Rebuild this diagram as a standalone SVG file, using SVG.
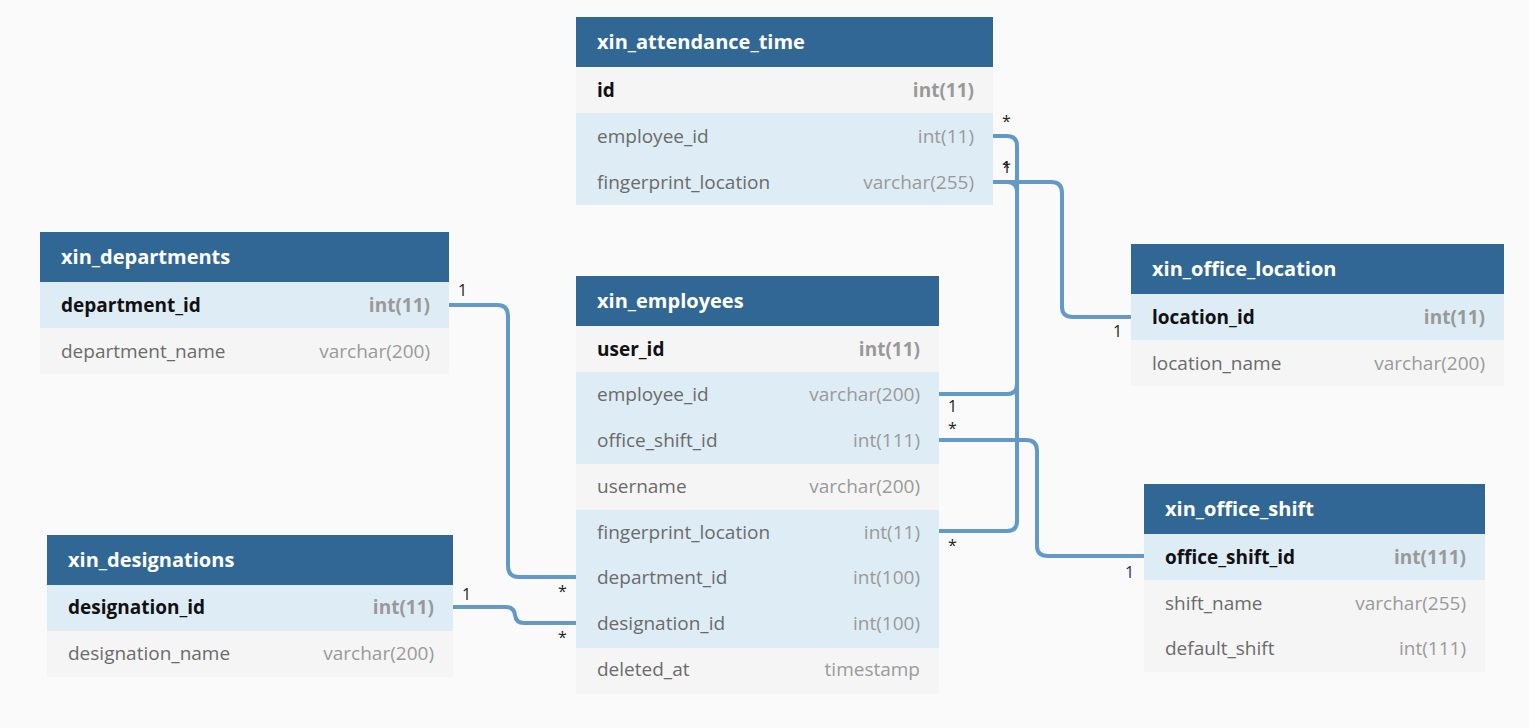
<svg xmlns="http://www.w3.org/2000/svg" width="1529" height="728" viewBox="0 0 1529 728">
<style>
.bg{fill:#fafafa}
.hd{fill:#316794}
.ht{fill:#ffffff;font-family:"Open Sans",sans-serif;font-size:20px;font-weight:bold}
.rg{fill:#f5f5f5}
.rb{fill:#deecf5}
.fn{fill:#6b6b6b;font-family:"Open Sans",sans-serif;font-size:19px}
.ft{fill:#9a9a9a;font-family:"Open Sans",sans-serif;font-size:19px;text-anchor:end}
.pk{fill:#111111;font-weight:bold}
.pt{fill:#999999;font-weight:bold}
.cn{fill:none;stroke:#6399c9;stroke-width:4}
.lb{fill:#222222;font-family:"Open Sans",sans-serif;font-size:16px}
</style>
<rect class="bg" width="1529" height="728"/>
<g id="connectors">
<path class="cn" d="M993,136 H1007 Q1017,136 1017,146 V384 Q1017,394 1007,394 H939"/>
<path class="cn" d="M993,182 H1007 Q1017,182 1017,192 V521 Q1017,531 1007,531 H939"/>
<path class="cn" d="M993,182 H1051 Q1062,182 1062,193 V307 Q1062,317 1073,317 H1131"/>
<path class="cn" d="M939,440 H1026 Q1037,440 1037,451 V546 Q1037,556 1048,556 H1144"/>
<path class="cn" d="M449,305 H497 Q508,305 508,316 V566 Q508,577 519,577 H576"/>
<path class="cn" d="M453,607 H506 Q514,607 515,615 Q516,623 524,623 H576"/>
<text class="lb" x="1002" y="127">*</text>
<text class="lb" x="1002" y="173">1</text>
<text class="lb" x="1002" y="173">*</text>
<text class="lb" x="948" y="412">1</text>
<text class="lb" x="948" y="434">*</text>
<text class="lb" x="948" y="551">*</text>
<text class="lb" x="1113" y="337">1</text>
<text class="lb" x="1125" y="578" style="fill:#1c2a8c">1</text>
<text class="lb" x="458" y="296">1</text>
<text class="lb" x="558" y="597">*</text>
<text class="lb" x="462" y="600">1</text>
<text class="lb" x="558" y="643">*</text>
</g>
<g id="xin_attendance_time">
<rect class="hd" x="576" y="17" width="417" height="50"/>
<text class="ht" x="597" y="49">xin_attendance_time</text>
<rect class="rg" x="576" y="67" width="417" height="46"/>
<rect class="rb" x="576" y="113" width="417" height="92"/>
<text class="fn pk" x="597" y="97">id</text><text class="ft pt" x="974" y="97">int(11)</text>
<text class="fn" x="597" y="143">employee_id</text><text class="ft" x="974" y="143">int(11)</text>
<text class="fn" x="597" y="189">fingerprint_location</text><text class="ft" x="974" y="189">varchar(255)</text>
</g>
<g id="xin_departments">
<rect class="hd" x="40" y="232" width="409" height="50"/>
<text class="ht" x="61" y="264">xin_departments</text>
<rect class="rb" x="40" y="282" width="409" height="46"/>
<rect class="rg" x="40" y="328" width="409" height="46"/>
<text class="fn pk" x="61" y="312">department_id</text><text class="ft pt" x="430" y="312">int(11)</text>
<text class="fn" x="61" y="358">department_name</text><text class="ft" x="430" y="358">varchar(200)</text>
</g>
<g id="xin_employees">
<rect class="hd" x="576" y="276" width="363" height="50"/>
<text class="ht" x="597" y="308">xin_employees</text>
<rect class="rg" x="576" y="326" width="363" height="46"/>
<rect class="rb" x="576" y="372" width="363" height="92"/>
<rect class="rg" x="576" y="464" width="363" height="46"/>
<rect class="rb" x="576" y="510" width="363" height="138"/>
<rect class="rg" x="576" y="648" width="363" height="46"/>
<text class="fn pk" x="597" y="356">user_id</text><text class="ft pt" x="920" y="356">int(11)</text>
<text class="fn" x="597" y="401">employee_id</text><text class="ft" x="920" y="401">varchar(200)</text>
<text class="fn" x="597" y="447">office_shift_id</text><text class="ft" x="920" y="447">int(111)</text>
<text class="fn" x="597" y="493">username</text><text class="ft" x="920" y="493">varchar(200)</text>
<text class="fn" x="597" y="539">fingerprint_location</text><text class="ft" x="920" y="539">int(11)</text>
<text class="fn" x="597" y="584">department_id</text><text class="ft" x="920" y="584">int(100)</text>
<text class="fn" x="597" y="630">designation_id</text><text class="ft" x="920" y="630">int(100)</text>
<text class="fn" x="597" y="676">deleted_at</text><text class="ft" x="920" y="676">timestamp</text>
</g>
<g id="xin_designations">
<rect class="hd" x="47" y="535" width="406" height="50"/>
<text class="ht" x="68" y="567">xin_designations</text>
<rect class="rb" x="47" y="585" width="406" height="46"/>
<rect class="rg" x="47" y="631" width="406" height="46"/>
<text class="fn pk" x="68" y="614">designation_id</text><text class="ft pt" x="434" y="614">int(11)</text>
<text class="fn" x="68" y="660">designation_name</text><text class="ft" x="434" y="660">varchar(200)</text>
</g>
<g id="xin_office_location">
<rect class="hd" x="1131" y="244" width="373" height="50"/>
<text class="ht" x="1152" y="276">xin_office_location</text>
<rect class="rb" x="1131" y="294" width="373" height="46"/>
<rect class="rg" x="1131" y="340" width="373" height="46"/>
<text class="fn pk" x="1152" y="324">location_id</text><text class="ft pt" x="1485" y="324">int(11)</text>
<text class="fn" x="1152" y="370">location_name</text><text class="ft" x="1485" y="370">varchar(200)</text>
</g>
<g id="xin_office_shift">
<rect class="hd" x="1144" y="484" width="341" height="50"/>
<text class="ht" x="1165" y="516">xin_office_shift</text>
<rect class="rb" x="1144" y="534" width="341" height="46"/>
<rect class="rg" x="1144" y="580" width="341" height="92"/>
<text class="fn pk" x="1165" y="564">office_shift_id</text><text class="ft pt" x="1466" y="564">int(111)</text>
<text class="fn" x="1165" y="610">shift_name</text><text class="ft" x="1466" y="610">varchar(255)</text>
<text class="fn" x="1165" y="655">default_shift</text><text class="ft" x="1466" y="655">int(111)</text>
</g>
</svg>
